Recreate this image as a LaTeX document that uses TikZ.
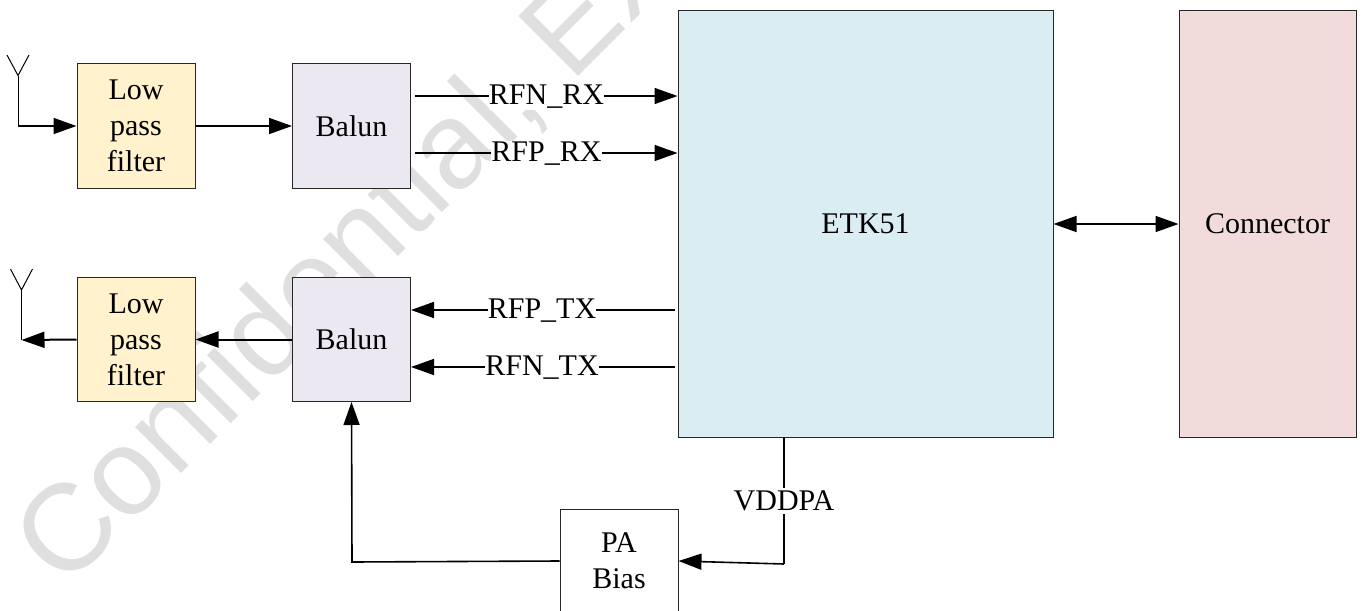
\documentclass[tikz,border=0pt]{standalone}
\usepackage{fontspec}
\setmainfont{Liberation Serif}
\newfontfamily\wmfont{Liberation Sans}
\usetikzlibrary{arrows.meta,calc}
\tikzset{
  x=1pt,y=-1pt,
  block/.style={draw=black!85,line width=1pt,align=center,inner sep=0pt,font=\fontsize{30}{36}\selectfont},
  lpf/.style={block,fill=lpfc,minimum width=118pt,minimum height=124pt},
  balun/.style={block,fill=balunc,minimum width=118pt,minimum height=124pt},
  sig/.style={font=\fontsize{30}{36}\selectfont,fill=white,inner xsep=0pt,inner ysep=1pt},
  wire/.style={line width=1.6pt,black},
  arr/.style={wire,-{Triangle[length=23pt,width=16pt]}},
  heavy/.style={arr,line width=2pt},
  dbl/.style={wire,{Triangle[length=23pt,width=16pt]}-{Triangle[length=23pt,width=16pt]}},
  ant/.style={line width=1pt,black}
}
\definecolor{lpfc}{HTML}{FFF2CC}
\definecolor{balunc}{HTML}{EBE8F1}
\definecolor{etkc}{HTML}{DAEDF3}
\definecolor{connc}{HTML}{F2DCDB}
\definecolor{wmc}{HTML}{DFDFDF}
\begin{document}
\begin{tikzpicture}
\useasboundingbox (0,0) rectangle (1367,610);
\begin{scope}
\clip (0,0) rectangle (1367,610);
\node[wmc,rotate=45,anchor=base west,inner sep=0pt,font=\wmfont\fontsize{123}{123}\selectfont] (wm) at (64,591) {Confidential, EX};
\end{scope}

\node[lpf] (lpfa) at (136,126) {Low\\pass\\filter};
\node[balun] (bala) at (351.5,126) {Balun};
\node[lpf] (lpfb) at (136,339.5) {Low\\pass\\filter};
\node[balun] (balb) at (351.5,339.5) {Balun};
\node[block,fill=etkc,minimum width=375pt,minimum height=426pt] (etk) at (865.5,224) {\raisebox{-1pt}{ETK51}};
\node[block,fill=connc,minimum width=177pt,minimum height=426pt] (conn) at (1267.5,224) {\raisebox{-1pt}{Connector}};
\node[block,fill=white,minimum width=118pt,minimum height=104pt] (pa) at (619,561) {PA\\Bias};

% antennas
\coordinate (anta) at (18,75.5);
\coordinate (antal) at (7,55);
\coordinate (antar) at (29,55);
\coordinate (antac) at (18,126);
\draw[ant] (antal) -- (anta) -- (antar);
\draw[ant] (anta) -- (antac);
\draw[arr] (antac) -- (lpfa.west);
\draw[arr] (lpfa.east) -- (bala.west);

\coordinate (antb) at (21.5,290);
\coordinate (antbl) at (10.5,269);
\coordinate (antbr) at (32.5,269);
\coordinate (antbc) at (21.5,340);
\draw[ant] (antbl) -- (antb) -- (antbr);
\draw[ant] (antb) -- (antbc);
\draw[heavy] (lpfb.west) -- (antbc);
\draw[heavy] (balb.west) -- (lpfb.east);

% differential lines
\coordinate (rxna) at (415,96);
\coordinate (rxpa) at (415,153);
\coordinate (txpa) at (675,310);
\coordinate (txna) at (675,367);
\draw[arr] (rxna) -- (rxna -| etk.west);
\draw[arr] (rxpa) -- (rxpa -| etk.west);
\draw[arr] (txpa) -- (txpa -| balb.east);
\draw[arr] (txna) -- (txna -| balb.east);
\node[sig] (lrxn) at (546.5,97) {RFN\_RX};
\node[sig] (lrxp) at (546.5,154) {RFP\_RX};
\node[sig] (ltxp) at (542,311) {RFP\_TX};
\node[sig] (ltxn) at (542,368) {RFN\_TX};

% connector link
\draw[dbl] (etk.east) -- (conn.west);

% VDDPA
\coordinate (vdda) at (784,437);
\coordinate (vddb) at (784,564);
\draw[wire] (vdda) -- (vddb);
\draw[arr] (vddb) -- (pa.east);
\node[sig,inner ysep=3pt] (vdd) at (784,501) {VDDPA};

% PA to balun
\coordinate (pab) at (352,562);
\draw[arr] (pa.west) -- (pab) -- (balb.south);
\end{tikzpicture}
\end{document}
